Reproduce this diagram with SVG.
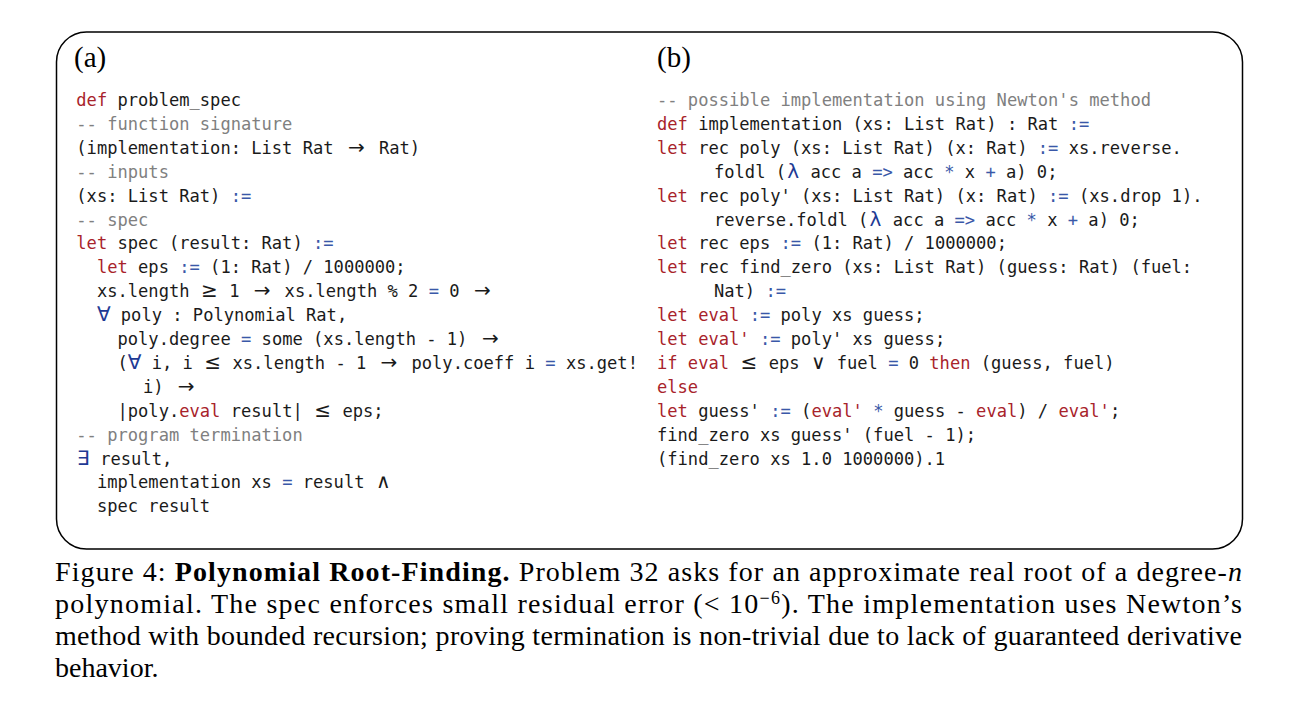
<svg xmlns="http://www.w3.org/2000/svg" width="1298" height="723" viewBox="0 0 1298 723">
<style>
.t{font-family:"DejaVu Sans Mono",monospace;font-size:17.1px;fill:#1a1a1a;white-space:pre}
.k{fill:#a8232b}
.o{fill:#3a58a8}
.c{fill:#808080}
.m{font-family:"DejaVu Sans",sans-serif;font-size:20px}
.mb{fill:#1e3a94}
.lab{font-family:"Liberation Serif",serif;font-size:29px;fill:#000}
.cap{font-family:"Liberation Serif",serif;font-size:28px;fill:#000;white-space:pre}
</style>
<rect width="1298" height="723" fill="#fff"/>
<g id="frame">
<rect x="56.5" y="32" width="1186" height="517" rx="30" ry="30" fill="none" stroke="#000" stroke-width="1.5"/>
</g>
<g id="panel-a">
<text class="lab" x="74" y="67">(a)</text>
<text class="t" x="76.3" y="106"><tspan class="k">def</tspan> problem_spec</text>
<text class="t c" x="76.3" y="129.9">-- function signature</text>
<text class="t" x="76.3" y="153.8">(implementation: List Rat<tspan class="m" x="348">→</tspan><tspan x="378.9">Rat)</tspan></text>
<text class="t c" x="76.3" y="177.7">-- inputs</text>
<text class="t" x="76.3" y="201.6">(xs: List Rat) <tspan class="o">:=</tspan></text>
<text class="t c" x="76.3" y="225.5">-- spec</text>
<text class="t" x="76.3" y="249.4"><tspan class="k">let</tspan> spec (result: Rat) <tspan class="o">:=</tspan></text>
<text class="t" x="96.9" y="273.3"><tspan class="k">let</tspan> eps <tspan class="o">:=</tspan> (1: Rat) / 1000000;</text>
<text class="t" x="96.9" y="297.2">xs.length<tspan class="m" x="201">≥</tspan><tspan x="229.2">1</tspan><tspan class="m" x="253.7">→</tspan><tspan x="284.6">xs.length % 2 </tspan><tspan class="o">=</tspan> 0<tspan class="m" x="473.9">→</tspan></text>
<text class="t" x="96.9" y="321.1"><tspan class="m mb">∀</tspan><tspan x="120.8">poly : Polynomial Rat,</tspan></text>
<text class="t" x="117.5" y="345">poly.degree <tspan class="o">=</tspan> some (xs.length - 1)<tspan class="m" x="481.9">→</tspan></text>
<text class="t" x="117.5" y="368.9">(<tspan class="m mb" x="127.8">∀</tspan><tspan x="151.7">i, i</tspan><tspan class="m" x="204.3">≤</tspan><tspan x="232.5">xs.length - 1</tspan><tspan class="m" x="380.6">→</tspan><tspan x="411.5">poly.coeff i </tspan><tspan class="o">=</tspan> xs.get!</text>
<text class="t" x="143" y="392.8">i)<tspan class="m" x="177.8">→</tspan></text>
<text class="t" x="117.5" y="416.7">|poly.<tspan class="k">eval</tspan> result|<tspan class="m" x="314.3">≤</tspan><tspan x="342.5">eps;</tspan></text>
<text class="t c" x="76.3" y="440.6">-- program termination</text>
<text class="t" x="76.9" y="464.5"><tspan class="m mb">∃</tspan><tspan x="100.2">result,</tspan></text>
<text class="t" x="96.9" y="488.4">implementation xs <tspan class="o">=</tspan> result<tspan class="m" x="376.1">∧</tspan></text>
<text class="t" x="96.9" y="512.3">spec result</text>
</g>
<g id="panel-b">
<text class="lab" x="657" y="67">(b)</text>
<text class="t c" x="657" y="106">-- possible implementation using Newton's method</text>
<text class="t" x="657" y="129.9"><tspan class="k">def</tspan> implementation (xs: List Rat) : Rat <tspan class="o">:=</tspan></text>
<text class="t" x="657" y="153.8"><tspan class="k">let</tspan> rec poly (xs: List Rat) (x: Rat) <tspan class="o">:=</tspan> xs.reverse.</text>
<text class="t" x="714" y="177.7">foldl (<tspan class="m mb" x="787.2">λ</tspan><tspan x="810.4">acc a </tspan><tspan class="o">=&gt;</tspan> acc <tspan class="o">*</tspan> x <tspan class="o">+</tspan> a) 0;</text>
<text class="t" x="657" y="201.6"><tspan class="k">let</tspan> rec poly' (xs: List Rat) (x: Rat) <tspan class="o">:=</tspan> (xs.drop 1).</text>
<text class="t" x="714" y="225.5">reverse.foldl (<tspan class="m mb" x="869.6">λ</tspan><tspan x="892.8">acc a </tspan><tspan class="o">=&gt;</tspan> acc <tspan class="o">*</tspan> x <tspan class="o">+</tspan> a) 0;</text>
<text class="t" x="657" y="249.4"><tspan class="k">let</tspan> rec eps <tspan class="o">:=</tspan> (1: Rat) / 1000000;</text>
<text class="t" x="657" y="273.3"><tspan class="k">let</tspan> rec find_zero (xs: List Rat) (guess: Rat) (fuel:</text>
<text class="t" x="714" y="297.2">Nat) <tspan class="o">:=</tspan></text>
<text class="t" x="657" y="321.1"><tspan class="k">let eval</tspan> <tspan class="o">:=</tspan> poly xs guess;</text>
<text class="t" x="657" y="345"><tspan class="k">let eval'</tspan> <tspan class="o">:=</tspan> poly' xs guess;</text>
<text class="t" x="657" y="368.9"><tspan class="k">if eval</tspan><tspan class="m" x="740.5">≤</tspan><tspan x="768.7">eps</tspan><tspan class="m" x="811">∨</tspan><tspan x="836.7">fuel </tspan><tspan class="o">=</tspan> 0 <tspan class="k">then</tspan> (guess, fuel)</text>
<text class="t k" x="657" y="392.8">else</text>
<text class="t" x="657" y="416.7"><tspan class="k">let</tspan> guess' <tspan class="o">:=</tspan> (<tspan class="k">eval'</tspan> <tspan class="o">*</tspan> guess - <tspan class="k">eval</tspan>) / <tspan class="k">eval'</tspan>;</text>
<text class="t" x="657" y="440.6">find_zero xs guess' (fuel - 1);</text>
<text class="t" x="657" y="464.5">(find_zero xs 1.0 1000000).1</text>
</g>
<g id="caption">
<text class="cap" x="55" y="581" textLength="1187" lengthAdjust="spacing">Figure 4: <tspan font-weight="bold">Polynomial Root-Finding.</tspan> Problem 32 asks for an approximate real root of a degree-<tspan font-style="italic">n</tspan></text>
<text class="cap" x="55" y="613" textLength="1187" lengthAdjust="spacing">polynomial. The spec enforces small residual error (&lt; 10<tspan font-size="18" dy="-9">−6</tspan><tspan dy="9">). The implementation uses Newton’s</tspan></text>
<text class="cap" x="55" y="645" textLength="1187" lengthAdjust="spacing">method with bounded recursion; proving termination is non-trivial due to lack of guaranteed derivative</text>
<text class="cap" x="55" y="677">behavior.</text>
</g>
<g id="connectors"/>
</svg>
